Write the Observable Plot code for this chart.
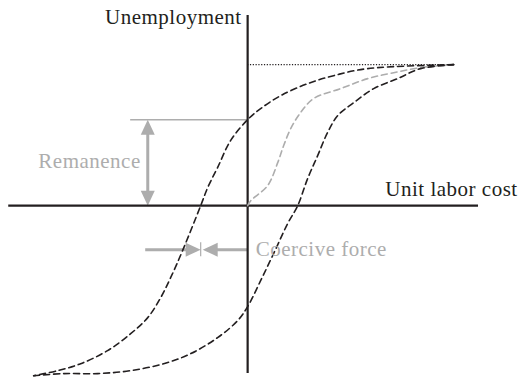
<!DOCTYPE html>
<html>
<head>
<meta charset="utf-8">
<script src="https://cdn.jsdelivr.net/npm/d3@7"></script>
<script src="https://cdn.jsdelivr.net/npm/@observablehq/plot@0.6"></script>
<style>
  html, body { margin: 0; padding: 0; background: #fff; }
  #chart svg { display: block; }
  #chart svg text { font-family: "Liberation Serif", "Times New Roman", serif; letter-spacing: 0.5px; }
</style>
</head>
<body>
<div id="chart"></div>
<script>
// Values in normalized units: saturation point = (1, 1), origin = axes crossing
const descendingX = [1.000, 0.583, 0.417, 0.291, 0.160, 0.063, 0.000, -0.083, -0.146, -0.194, -0.228, -0.316, -0.374, -0.422, -0.485, -0.568, -0.680, -0.811, -0.922, -1.039];
const descendingY = [1.000, 0.972, 0.922, 0.865, 0.780, 0.688, 0.610, 0.461, 0.270, 0.128, 0.000, -0.319, -0.511, -0.652, -0.794, -0.908, -1.028, -1.121, -1.170, -1.206];
const ascendingX = [-1.039, -0.893, -0.728, -0.568, -0.408, -0.277, -0.146, -0.049, 0.000, 0.063, 0.126, 0.194, 0.243, 0.291, 0.340, 0.388, 0.437, 0.515, 0.612, 0.728, 0.840, 1.000];
const ascendingY = [-1.206, -1.191, -1.191, -1.170, -1.121, -1.050, -0.936, -0.816, -0.716, -0.532, -0.340, -0.128, 0.000, 0.191, 0.355, 0.518, 0.638, 0.730, 0.830, 0.901, 0.972, 1.000];
const initialX = [0.000, 0.015, 0.097, 0.146, 0.175, 0.209, 0.257, 0.320, 0.451, 0.583, 0.709, 0.840, 1.000];
const initialY = [0.000, 0.035, 0.142, 0.305, 0.426, 0.546, 0.660, 0.759, 0.830, 0.901, 0.943, 0.979, 1.000];
const saturation = 1.0;
const remanence = 0.610;
const coerciveForce = -0.228;
const xAxisExtent = [-1.160, 1.121];
const yAxisExtent = [-1.191, 1.348];
const remanenceLineStart = -0.568;
const remanenceArrowX = -0.485;
const coerciveArrowY = -0.312;
const coerciveArrowStart = -0.495;
const labels = ["Unemployment", "Unit labor cost", "Remanence", "Coercive force"];

const width = 519, height = 380;
const xDomain = [-1.2, 1.32], yDomain = [-1.24, 1.455];
const pxX = width / (xDomain[1] - xDomain[0]);
const pxY = height / (yDomain[1] - yDomain[0]);

const zip = (xs, ys) => xs.map((x, i) => ({x, y: ys[i]}));
const descending = zip(descendingX, descendingY);
const ascending = zip(ascendingX, ascendingY);
const initial = zip(initialX, initialY);

// arrowhead triangles built from tip positions and direction
const HEAD_L = 15, HEAD_W = 7;
function head(id, tx, ty, dir) {
  const L = HEAD_L, W = HEAD_W;
  let pts;
  if (dir === "up" || dir === "down") {
    const by = ty + (dir === "up" ? -1 : 1) * L / pxY;
    pts = [[tx, ty], [tx - W / pxX, by], [tx + W / pxX, by], [tx, ty]];
  } else {
    const bx = tx + (dir === "left" ? 1 : -1) * L / pxX;
    pts = [[tx, ty], [bx, ty - W / pxY], [bx, ty + W / pxY], [tx, ty]];
  }
  return pts.map(([x, y]) => ({id, x, y}));
}
const heads = [
  ...head("remTop", remanenceArrowX, remanence, "up"),
  ...head("remBottom", remanenceArrowX, 0, "down"),
  ...head("coerLeft", coerciveForce, coerciveArrowY, "right"),
  ...head("coerRight", coerciveForce + 2 / pxX, coerciveArrowY, "left")
];

const grey = "#adadad";
const ink = "#231f20";
const font = "'Liberation Serif', 'Times New Roman', serif";

const chart = Plot.plot({
  width, height,
  marginTop: 0, marginRight: 0, marginBottom: 0, marginLeft: 0,
  x: {domain: xDomain, axis: null},
  y: {domain: yDomain, axis: null},
  style: {background: "#fff", fontFamily: font},
  marks: [
    // remanence annotation
    Plot.ruleY([remanence], {x1: remanenceLineStart, x2: 0, stroke: grey, strokeWidth: 1.5}),
    Plot.ruleX([remanenceArrowX], {y1: 0 + 10 / pxY, y2: remanence - 10 / pxY, stroke: grey, strokeWidth: 3}),
    // coercive force annotation
    Plot.ruleY([coerciveArrowY], {x1: coerciveArrowStart, x2: coerciveForce - 10 / pxX, stroke: grey, strokeWidth: 3}),
    Plot.ruleY([coerciveArrowY], {x1: coerciveForce + 12 / pxX, x2: 0, stroke: grey, strokeWidth: 3}),
    Plot.ruleX([coerciveForce], {y1: coerciveArrowY - 7 / pxY, y2: coerciveArrowY + 7 / pxY, stroke: grey, strokeWidth: 1.2}),
    Plot.line(heads, {x: "x", y: "y", z: "id", fill: grey, stroke: "none"}),
    // axes
    Plot.ruleY([0], {x1: xAxisExtent[0], x2: xAxisExtent[1], stroke: ink, strokeWidth: 2.4}),
    Plot.ruleX([0], {y1: yAxisExtent[0], y2: yAxisExtent[1], stroke: ink, strokeWidth: 2.2}),
    // saturation dotted line
    Plot.ruleY([saturation], {x1: 0, x2: saturation, stroke: ink, strokeWidth: 1.1, strokeDasharray: "1.2,1.6"}),
    // curves
    Plot.line(initial, {x: "x", y: "y", curve: "catmull-rom", stroke: grey, strokeWidth: 1.6, strokeDasharray: "6,4"}),
    Plot.line(descending, {x: "x", y: "y", curve: "catmull-rom", stroke: ink, strokeWidth: 1.6, strokeDasharray: "6,4"}),
    Plot.line(ascending, {x: "x", y: "y", curve: "catmull-rom", stroke: ink, strokeWidth: 1.6, strokeDasharray: "6,4"}),
    // labels
    Plot.text([labels[0]], {x: -0.029, y: 1.291, text: d => d, textAnchor: "end", lineAnchor: "bottom", fontFamily: font, fontSize: 21, fill: ink}),
    Plot.text([labels[1]], {x: 1.311, y: 0.071, text: d => d, textAnchor: "end", lineAnchor: "bottom", fontFamily: font, fontSize: 21, fill: ink}),
    Plot.text([labels[2]], {x: -0.519, y: 0.270, text: d => d, textAnchor: "end", lineAnchor: "bottom", fontFamily: font, fontSize: 21, fill: grey}),
    Plot.text([labels[3]], {x: 0.039, y: -0.355, text: d => d, textAnchor: "start", lineAnchor: "bottom", fontFamily: font, fontSize: 21, fill: grey})
  ]
});
document.getElementById("chart").appendChild(chart);
</script>
</body>
</html>
